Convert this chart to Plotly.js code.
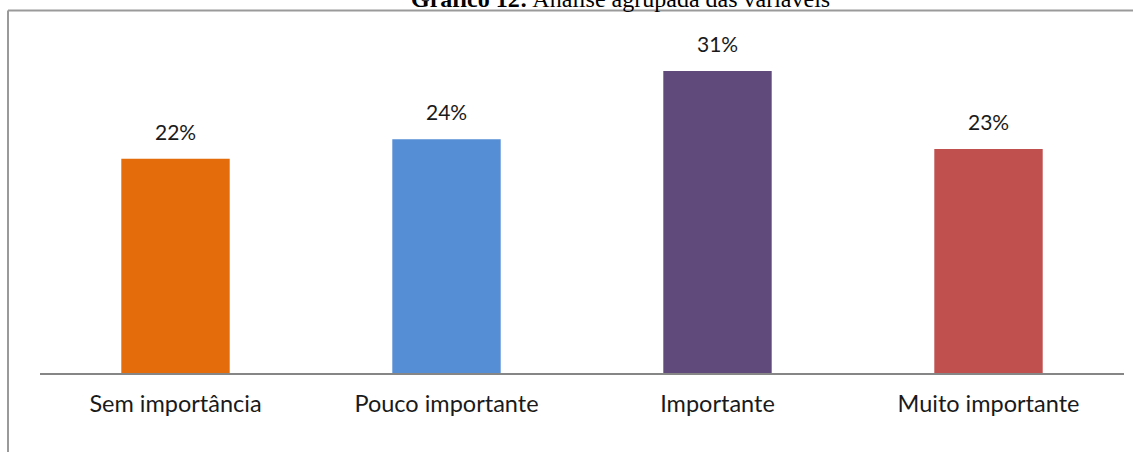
<!DOCTYPE html>
<html>
<head>
<meta charset="utf-8">
<script src="https://cdn.plot.ly/plotly-3.0.1.min.js"></script>
<style>html,body{margin:0;padding:0;background:#fff;}#chart{width:1133px;height:452px;}</style>
</head>
<body>
<div id="chart"></div>
<script>
const categories = ["Sem importância", "Pouco importante", "Importante", "Muito importante"];
const values = [22, 24, 31, 23];
const valueLabels = ["22%", "24%", "31%", "23%"];
const barColors = ["#E46C0A", "#558ED5", "#604A7B", "#C0504D"];
const titleText = "<b>Gráfico 12:</b> Análise agrupada das variáveis";

const W = 1133, H = 452;
const M = {l: 40, r: 9, t: 32, b: 79};
const pw = W - M.l - M.r, ph = H - M.t - M.b;
const px = x => (x - M.l) / pw;
const py = y => (H - M.b - y) / ph;

const trace = {
  type: "bar",
  x: categories,
  y: values,
  marker: {color: barColors},
  hoverinfo: "none"
};

const annotations = categories.map((c, i) => ({
  x: c, y: values[i], xref: "x", yref: "y",
  text: valueLabels[i], showarrow: false,
  yanchor: "bottom", yshift: 13,
  font: {family: "Lato, sans-serif", size: 21, color: "#1a1a1a"}
}));
annotations.push({
  x: px(620), y: py(-1), xref: "paper", yref: "paper",
  xanchor: "center", yanchor: "middle", showarrow: false,
  text: titleText,
  font: {family: "Liberation Serif, Times New Roman, serif", size: 24, color: "#000"}
});

const layout = {
  width: W, height: H,
  margin: M,
  paper_bgcolor: "#ffffff", plot_bgcolor: "#ffffff",
  bargap: 0.6,
  showlegend: false,
  xaxis: {
    showline: true, linecolor: "#868686", linewidth: 2,
    showgrid: false, zeroline: false, ticks: "",
    ticklabelstandoff: 9,
    tickfont: {family: "Lato, sans-serif", size: 23.5, color: "#1a1a1a"}
  },
  yaxis: {
    range: [0, 35], visible: false, showgrid: false, zeroline: false
  },
  annotations: annotations,
  shapes: [
    {type: "line", xref: "paper", yref: "paper", x0: px(8), x1: px(8), y0: py(10.5), y1: py(452), line: {color: "#9a9a9a", width: 2}},
    {type: "line", xref: "paper", yref: "paper", x0: px(8), x1: px(1133), y0: py(10.5), y1: py(10.5), line: {color: "#9a9a9a", width: 2}}
  ]
};

Plotly.newPlot("chart", [trace], layout, {displayModeBar: false, staticPlot: true});
</script>
</body>
</html>
